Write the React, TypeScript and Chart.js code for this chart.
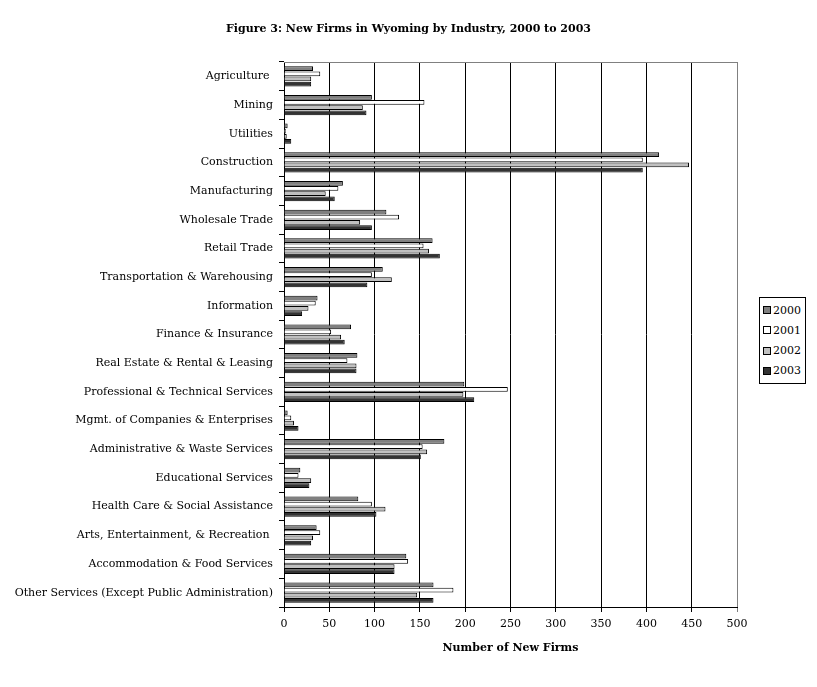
import React, { useEffect, useRef } from "react";
import { Chart, registerables } from "chart.js";

Chart.register(...registerables);

const categories = [
  "Agriculture ",
  "Mining",
  "Utilities",
  "Construction",
  "Manufacturing",
  "Wholesale Trade",
  "Retail Trade",
  "Transportation & Warehousing",
  "Information",
  "Finance & Insurance",
  "Real Estate & Rental & Leasing",
  "Professional & Technical Services",
  "Mgmt. of Companies & Enterprises",
  "Administrative & Waste Services",
  "Educational Services",
  "Health Care & Social Assistance",
  "Arts, Entertainment, & Recreation ",
  "Accommodation & Food Services",
  "Other Services (Except Public Administration)",
];

const years = ["2000", "2001", "2002", "2003"];

const values2000 = [32, 97, 4, 414, 65, 113, 164, 109, 37, 74, 81, 199, 4, 177, 18, 82, 36, 135, 165];
const values2001 = [40, 155, 2, 396, 60, 127, 154, 97, 35, 52, 70, 247, 8, 153, 16, 97, 40, 137, 187];
const values2002 = [30, 87, 3, 447, 46, 84, 160, 119, 27, 63, 80, 198, 11, 158, 30, 112, 32, 122, 147];
const values2003 = [30, 91, 8, 396, 56, 97, 172, 92, 20, 67, 80, 210, 16, 151, 28, 102, 30, 122, 165];

const seriesValues = [values2000, values2001, values2002, values2003];
const seriesColors = ["#808080", "#ffffff", "#c0c0c0", "#333333"];

const xTicks = [0, 50, 100, 150, 200, 250, 300, 350, 400, 450, 500];

const chartTitle = "Figure 3: New Firms in Wyoming by Industry, 2000 to 2003";

const FONT = "'DejaVu Serif', serif";

const frameAndTitle = {
  id: "frameAndTitle",
  afterDatasetsDraw(chart: any) {
    const { ctx, chartArea } = chart;
    ctx.save();
    ctx.strokeStyle = "#808080";
    ctx.lineWidth = 1;
    ctx.beginPath();
    ctx.moveTo(chartArea.left, chartArea.top + 0.5);
    ctx.lineTo(chartArea.right + 0.5, chartArea.top + 0.5);
    ctx.lineTo(chartArea.right + 0.5, chartArea.bottom);
    ctx.stroke();
    ctx.restore();
  },
  afterDraw(chart: any) {
    const { ctx } = chart;
    ctx.save();
    ctx.fillStyle = "#000";
    ctx.font = `bold 11px ${FONT}`;
    ctx.textAlign = "center";
    ctx.textBaseline = "middle";
    ctx.fillText(chartTitle, chart.width / 2, 29);
    ctx.restore();
  },
};

export default function App() {
  const canvasRef = useRef<HTMLCanvasElement | null>(null);

  useEffect(() => {
    if (!canvasRef.current) return;
    const chart = new Chart(canvasRef.current, {
      type: "bar",
      data: {
        labels: categories,
        datasets: years.map((y, i) => ({
          label: y,
          data: seriesValues[i],
          backgroundColor: seriesColors[i],
          borderColor: "#000000",
          borderWidth: 1,
          categoryPercentage: 0.72,
          barPercentage: 0.92,
        })),
      },
      options: {
        indexAxis: "y",
        animation: false,
        responsive: false,
        devicePixelRatio: 1,
        layout: { padding: { left: 0, right: 80, top: 62, bottom: 0 } },
        plugins: {
          legend: { display: false },
          tooltip: { enabled: false },
          title: { display: false },
        },
        scales: {
          x: {
            min: 0,
            max: 500,
            afterBuildTicks: (scale: any) => {
              scale.ticks = xTicks.map((v) => ({ value: v }));
            },
            afterFit: (scale: any) => {
              scale.height = 80;
            },
            ticks: {
              color: "#000",
              font: { family: FONT, size: 11 },
              padding: 6,
              maxRotation: 0,
            },
            grid: {
              color: (c: any) => (c.tick && c.tick.value === 500 ? "#808080" : "#000000"),
              lineWidth: 1,
              tickLength: 5,
              drawTicks: true,
            },
            border: { display: true, color: "#000", width: 1 },
            title: {
              display: true,
              text: "Number of New Firms",
              color: "#000",
              font: { family: FONT, size: 11, weight: "bold" },
              padding: { top: 4, bottom: 32 },
            },
          },
          y: {
            afterFit: (scale: any) => {
              scale.width = 284;
            },
            ticks: {
              color: "#000",
              font: { family: FONT, size: 11 },
              padding: 6,
              autoSkip: false,
            },
            grid: {
              offset: true,
              drawOnChartArea: false,
              drawTicks: true,
              tickLength: 5,
              color: "#000",
            },
            border: { display: true, color: "#000", width: 1 },
          },
        },
      },
      plugins: [frameAndTitle],
    });
    return () => chart.destroy();
  }, []);

  return (
    <div style={{ position: "absolute", left: 0, top: 0, width: 817, height: 687, background: "#fff" }}>
      <canvas ref={canvasRef} width={817} height={687} style={{ display: "block" }} />
      <div
        style={{
          position: "absolute",
          left: 759,
          top: 297,
          width: 45,
          height: 81,
          border: "1px solid #000",
          background: "#fff",
          fontFamily: FONT,
          fontSize: 11,
          display: "flex",
          flexDirection: "column",
          justifyContent: "space-around",
          padding: "2px 0",
          boxSizing: "content-box",
        }}
      >
        {years.map((y, i) => (
          <div key={y} style={{ display: "flex", alignItems: "center", paddingLeft: 3, height: 13 }}>
            <span
              style={{
                display: "inline-block",
                width: 6,
                height: 6,
                border: "1px solid #000",
                background: seriesColors[i],
                marginRight: 2,
              }}
            />
            <span>{y}</span>
          </div>
        ))}
      </div>
    </div>
  );
}
